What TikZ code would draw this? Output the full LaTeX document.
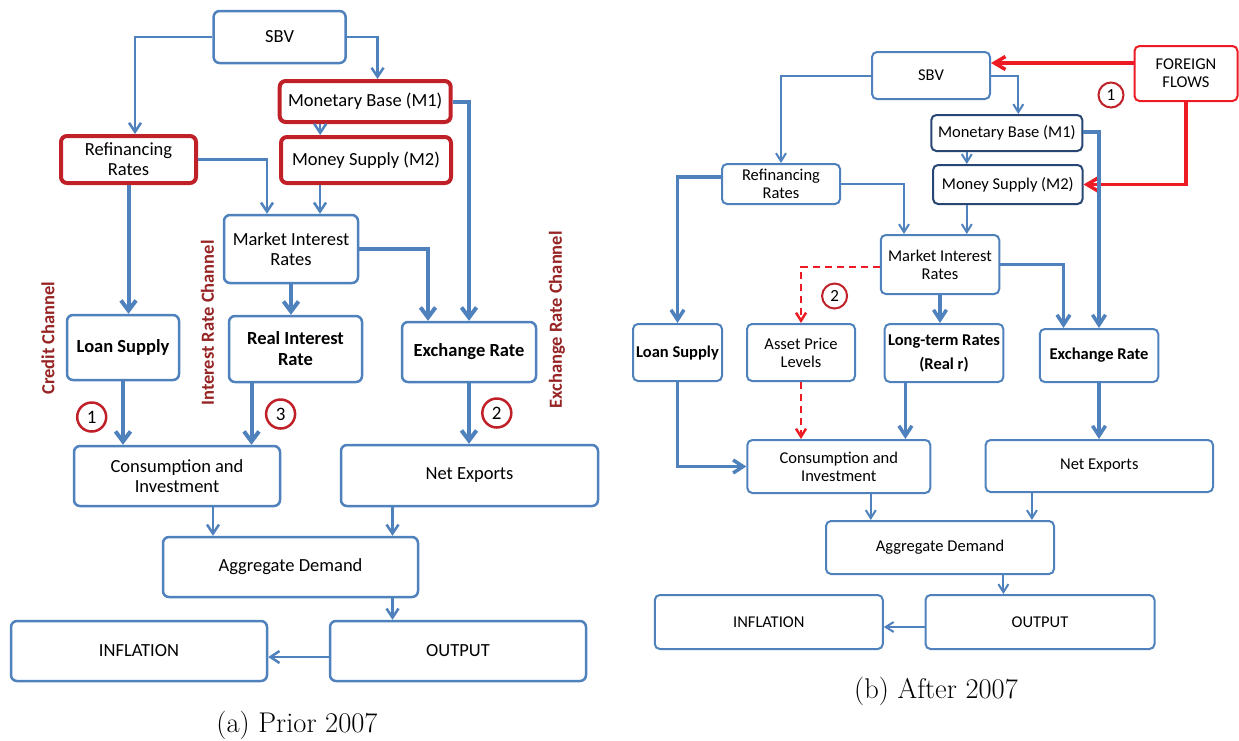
\documentclass[tikz,border=0pt]{standalone}
\usepackage{fontspec}
\usepackage{tikz}
\usetikzlibrary{positioning, arrows.meta, calc}
\newfontfamily\boxfont{Carlito}
\definecolor{boxblue}{RGB}{79,129,189}
\definecolor{boxred}{RGB}{192,32,40}
\definecolor{navy}{RGB}{40,70,115}
\definecolor{flowred}{RGB}{237,28,36}
\definecolor{chanred}{RGB}{150,36,36}

\begin{document}
\begin{tikzpicture}[x=1pt, y=-1pt,
            box/.style={draw=boxblue, line width=2.5pt, rounded corners=6pt, fill=white, align=center, inner sep=1pt, font=\boxfont\fontsize{18.5}{20}\selectfont},
            boldbox/.style={box, font=\boxfont\bfseries\fontsize{18.5}{21}\selectfont},
            redbox/.style={box, draw=boxred, line width=4pt},
            rbox/.style={box, line width=2pt, rounded corners=5pt, font=\boxfont\fontsize{16.5}{18}\selectfont},
            rboldbox/.style={rbox, font=\boxfont\bfseries\fontsize{16.5}{18}\selectfont},
            navybox/.style={rbox, draw=navy},
            ffbox/.style={rbox, draw=flowred},
            link/.style={draw=boxblue, line width=2.5pt, -{Straight Barb[length=9pt,width=12pt]}},
            mainlink/.style={draw=boxblue, line width=4pt, -{Straight Barb[length=10pt,width=15pt]}},
            rlink/.style={draw=boxblue, line width=2pt, -{Straight Barb[length=8pt,width=10pt]}},
            rmainlink/.style={draw=boxblue, line width=3.5pt, -{Straight Barb[length=10pt,width=13pt]}},
            redlink/.style={draw=flowred, line width=3.5pt, -{Straight Barb[length=11pt,width=13pt]}},
            dashlink/.style={draw=flowred, line width=2.5pt, dash pattern=on 7pt off 5pt, -{Straight Barb[length=8pt,width=10pt]}},
            channel/.style={rotate=90, text=chanred, font=\boxfont\bfseries\fontsize{18.5}{20}\selectfont},
            num/.style={circle, draw=boxred, line width=2.5pt, minimum size=29pt, inner sep=0pt, font=\boxfont\fontsize{19}{20}\selectfont},
            rnum/.style={num, line width=2pt, minimum size=25pt, font=\boxfont\fontsize{17}{18}\selectfont},
            caption/.style={font=\fontsize{28.5}{32}\selectfont}
        ]
        \useasboundingbox (0,0) rectangle (1239,740);

        % Knoten links
        \node[box, minimum width=132pt, minimum height=52pt] (sbv) at (279.6,37) {SBV};
        \node[redbox, minimum width=171pt, minimum height=41pt] (mb) at (365.2,101.5) {Monetary Base (M1)};
        \node[redbox, minimum width=170pt, minimum height=46pt] (ms) at (366,160) {Money Supply (M2)};
        \node[redbox, minimum width=135pt, minimum height=47pt] (ref) at (128.5,159.5) {Refinancing\\Rates};
        \node[box, minimum width=134pt, minimum height=68pt] (mir) at (291,249) {Market Interest\\Rates};
        \node[boldbox, minimum width=112pt, minimum height=65pt] (loan) at (123,347.5) {Loan Supply};
        \node[boldbox, minimum width=133pt, minimum height=66pt] (real) at (295.5,349) {Real Interest\\Rate};
        \node[boldbox, minimum width=134pt, minimum height=60pt] (exr) at (469,352) {Exchange Rate};
        \node[box, minimum width=206pt, minimum height=60pt] (ci) at (177,476) {Consumption and\\Investment};
        \node[box, minimum width=257pt, minimum height=61pt] (nx) at (469.5,475.5) {Net Exports};
        \node[box, minimum width=255pt, minimum height=60pt] (ad) at (290.5,567) {Aggregate Demand};
        \node[box, minimum width=256pt, minimum height=60pt] (infl) at (139,651) {INFLATION};
        \node[box, minimum width=256pt, minimum height=60pt] (out) at (458,651) {OUTPUT};

        \node[channel] (credit) at (48,338) {Credit Channel};
        \node[channel] (irate) at (207.5,323) {Interest Rate Channel};
        \node[channel] (xrate) at (557,320) {Exchange Rate Channel};
        \node[num] (n1) at (91.7,417) {1};
        \node[num] (n3) at (280.6,414) {3};
        \node[num] (n2) at (496.8,413) {2};
        \node[caption] (capa) at (297,725) {(a) Prior 2007};

        % Kanten links
        \draw[link] (sbv.west) -| ($(ref.north)+(6.5,0)$);
        \draw[link] (sbv.east) -| ($(mb.north)+(12.3,0)$);
        \draw[link] ($(mb.south)+(-45,0)$) -- ($(mb.south |- ms.north)+(-45,0)$);
        \draw[link] (ref.east) -| ($(mir.north)+(-24,0)$);
        \draw[link] ($(ms.south)+(-46,0)$) -- ($(ms.south |- mir.north)+(-46,0)$);
        \draw[mainlink] (mb.east) -| (exr.north);
        \draw[mainlink] (mir.east) -| ($(exr.north)+(-41,0)$);
        \draw[mainlink] (ref.south) -- (ref.south |- loan.north);
        \draw[mainlink] (mir.south) -- (mir.south |- real.north);
        \draw[mainlink] (loan.south) -- (loan.south |- ci.north);
        \draw[mainlink] ($(real.south)+(-44,0)$) -- ($(real.south |- ci.north)+(-44,0)$);
        \draw[mainlink] (exr.south) -- (exr.south |- nx.north);
        \draw[link] ($(ci.south)+(36,0)$) -- ($(ci.south |- ad.north)+(36,0)$);
        \draw[link] ($(nx.south)+(-77,0)$) -- ($(nx.south |- ad.north)+(-77,0)$);
        \draw[link] ($(ad.south)+(102,0)$) -- ($(ad.south |- out.north)+(102,0)$);
        \draw[link] ($(out.west)+(0,6)$) -- ($(out.west -| infl.east)+(0,6)$);

        % Knoten rechts
        \node[rbox, minimum width=118pt, minimum height=47pt] (sbvB) at (931,75.5) {SBV};
        \node[ffbox, minimum width=103pt, minimum height=55pt] (ffB) at (1186,73.5) {FOREIGN\\FLOWS};
        \node[navybox, minimum width=151pt, minimum height=36pt] (mbB) at (1006.8,133) {Monetary Base (M1)};
        \node[navybox, minimum width=149.5pt, minimum height=39pt] (msB) at (1007.8,184.5) {Money Supply (M2)};
        \node[rbox, minimum width=118pt, minimum height=40pt] (refB) at (781,184) {Refinancing\\Rates};
        \node[rbox, minimum width=118.5pt, minimum height=59pt] (mirB) at (940,264.5) {Market Interest\\Rates};
        \node[rboldbox, minimum width=89pt, minimum height=57pt] (loanB) at (677.5,352.5) {Loan Supply};
        \node[rbox, minimum width=108pt, minimum height=57pt] (aplB) at (801,352.5) {Asset Price\\Levels};
        \node[rboldbox, minimum width=118.6pt, minimum height=58pt] (ltrB) at (944,353) {Long-term Rates\\[6pt](Real r)};
        \node[rboldbox, minimum width=118.5pt, minimum height=53pt] (exrB) at (1099,355.5) {Exchange Rate};
        \node[rbox, minimum width=183pt, minimum height=53pt] (ciB) at (838.8,466.5) {Consumption and\\Investment};
        \node[rbox, minimum width=227.4pt, minimum height=52pt] (nxB) at (1099.3,466) {Net Exports};
        \node[rbox, minimum width=228pt, minimum height=53pt] (adB) at (940,547.5) {Aggregate Demand};
        \node[rbox, minimum width=228pt, minimum height=54pt] (inflB) at (768.8,622) {INFLATION};
        \node[rbox, minimum width=229pt, minimum height=54pt] (outB) at (1040,622) {OUTPUT};

        \node[rnum] (m1) at (1111,95) {1};
        \node[rnum] (m2) at (834.6,296) {2};
        \node[caption] (capb) at (936,691) {(b) After 2007};

        % Kanten rechts
        \draw[redlink] ($(ffB.west)+(0,-10.5)$) -- ($(ffB.west -| sbvB.east)+(0,-10.5)$);
        \draw[redlink] (ffB.south) |- (msB.east);
        \draw[rlink] (sbvB.west) -| (refB.north);
        \draw[rlink] (sbvB.east) -| ($(mbB.north)+(11.5,0)$);
        \draw[rlink] ($(mbB.south)+(-40,0)$) -- ($(mbB.south |- msB.north)+(-40,0)$);
        \draw[rlink] (refB.east) -| ($(mirB.north)+(-36,0)$);
        \draw[rlink] ($(msB.south)+(-41,0)$) -- ($(msB.south |- mirB.north)+(-41,0)$);
        \draw[rmainlink] ($(mbB.east)+(0,-1)$) -| (exrB.north);
        \draw[rmainlink] ($(refB.west)+(0,-7)$) -| (loanB.north);
        \draw[dashlink] ($(mirB.west)+(0,2.5)$) -| (aplB.north);
        \draw[rmainlink] (mirB.south) -- (mirB.south |- ltrB.north);
        \draw[rmainlink] (mirB.east) -| ($(exrB.north)+(-35.5,0)$);
        \draw[rmainlink] (loanB.south) |- (ciB.west);
        \draw[dashlink] (aplB.south) -- (aplB.south |- ciB.north);
        \draw[rmainlink] ($(ltrB.south)+(-38.6,0)$) -- ($(ltrB.south |- ciB.north)+(-38.6,0)$);
        \draw[rmainlink] (exrB.south) -- (exrB.south |- nxB.north);
        \draw[rlink] ($(ciB.south)+(32,0)$) -- ($(ciB.south |- adB.north)+(32,0)$);
        \draw[rlink] ($(nxB.south)+(-67.4,0)$) -- ($(nxB.south |- adB.north)+(-67.4,0)$);
        \draw[rlink] ($(adB.south)+(63.4,0)$) -- ($(adB.south |- outB.north)+(63.4,0)$);
        \draw[rlink] ($(outB.west)+(0,5)$) -- ($(outB.west -| inflB.east)+(0,5)$);

    \end{tikzpicture}
\end{document}
